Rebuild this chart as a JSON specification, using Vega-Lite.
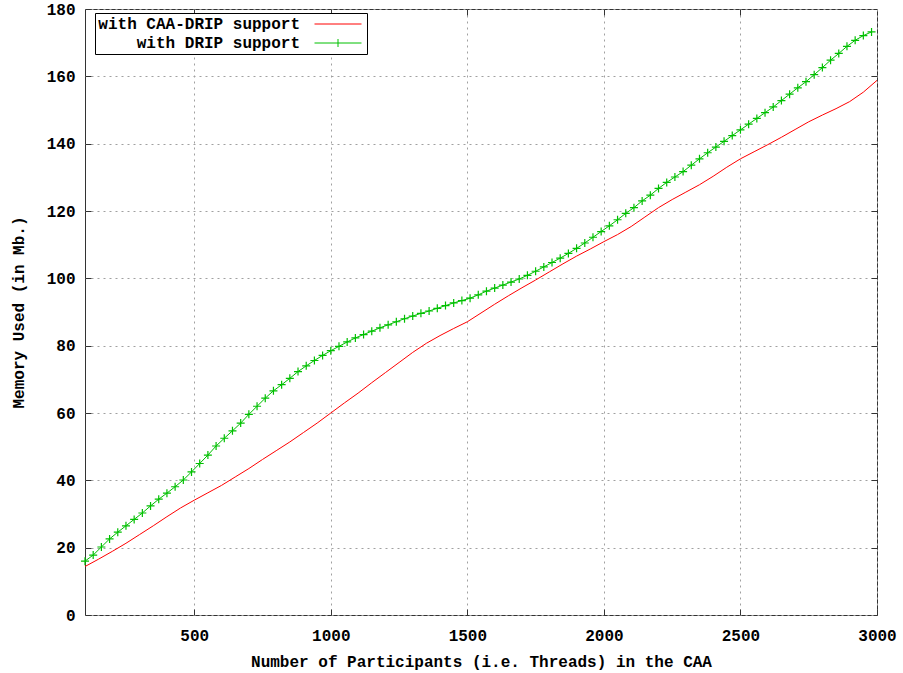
{
 "$schema": "https://vega.github.io/schema/vega-lite/v6.json",
 "width": 792,
 "height": 606,
 "autosize": {"type": "none"},
 "padding": {"left": 85, "top": 9, "right": 26, "bottom": 58},
 "background": "white",
 "config": {
  "font": "Liberation Mono",
  "view": {"stroke": "#333333", "strokeWidth": 1},
  "axis": {
   "labelFont": "Liberation Mono", "labelFontSize": 16, "labelFontWeight": "bold", "labelColor": "black",
   "titleFont": "Liberation Mono", "titleFontSize": 16, "titleFontWeight": "bold", "titleColor": "black",
   "domain": false, "tickColor": "#333333", "tickSize": -6, "tickWidth": 1,
   "gridColor": "#a0a0a0", "gridDash": [2, 4], "gridOpacity": 1, "gridWidth": 1
  }
 },
 "datasets": {
  "caa": [
   {"x":100,"y":14.4},{"x":150,"y":16.6},{"x":200,"y":18.9},{"x":250,"y":21.3},{"x":300,"y":23.9},
   {"x":350,"y":26.5},{"x":400,"y":29.2},{"x":450,"y":31.8},{"x":500,"y":34.1},{"x":550,"y":36.3},
   {"x":600,"y":38.5},{"x":650,"y":41.0},{"x":700,"y":43.5},{"x":750,"y":46.2},{"x":800,"y":48.8},
   {"x":850,"y":51.4},{"x":900,"y":54.2},{"x":950,"y":57.0},{"x":1000,"y":60.0},{"x":1050,"y":63.0},
   {"x":1100,"y":65.9},{"x":1150,"y":69.0},{"x":1200,"y":72.0},{"x":1250,"y":75.0},{"x":1300,"y":78.0},
   {"x":1350,"y":80.7},{"x":1400,"y":83.0},{"x":1450,"y":85.1},{"x":1500,"y":87.1},{"x":1550,"y":89.7},
   {"x":1600,"y":92.3},{"x":1650,"y":94.8},{"x":1700,"y":97.2},{"x":1750,"y":99.5},{"x":1800,"y":101.9},
   {"x":1850,"y":104.3},{"x":1900,"y":106.6},{"x":1950,"y":108.7},{"x":2000,"y":110.9},{"x":2050,"y":113.0},
   {"x":2100,"y":115.4},{"x":2150,"y":118.2},{"x":2200,"y":121.0},{"x":2250,"y":123.4},{"x":2300,"y":125.6},
   {"x":2350,"y":127.8},{"x":2400,"y":130.3},{"x":2450,"y":133.0},{"x":2500,"y":135.5},{"x":2550,"y":137.6},
   {"x":2600,"y":139.7},{"x":2650,"y":141.9},{"x":2700,"y":144.2},{"x":2750,"y":146.5},{"x":2800,"y":148.5},
   {"x":2850,"y":150.4},{"x":2900,"y":152.5},{"x":2950,"y":155.3},{"x":3000,"y":158.8}
  ],
  "drip": [
   {"x":100,"y":16.0},{"x":130,"y":17.8},{"x":160,"y":20.2},{"x":190,"y":22.6},{"x":220,"y":24.6},
   {"x":250,"y":26.5},{"x":280,"y":28.4},{"x":310,"y":30.3},{"x":340,"y":32.4},{"x":370,"y":34.4},
   {"x":400,"y":36.2},{"x":430,"y":38.1},{"x":460,"y":40.1},{"x":490,"y":42.5},{"x":520,"y":45.0},
   {"x":550,"y":47.5},{"x":580,"y":50.2},{"x":610,"y":52.5},{"x":640,"y":54.7},{"x":670,"y":57.0},
   {"x":700,"y":59.6},{"x":730,"y":62.0},{"x":760,"y":64.4},{"x":790,"y":66.6},{"x":820,"y":68.4},
   {"x":850,"y":70.3},{"x":880,"y":72.3},{"x":910,"y":74.0},{"x":940,"y":75.6},{"x":970,"y":77.1},
   {"x":1000,"y":78.5},{"x":1030,"y":79.8},{"x":1060,"y":81.1},{"x":1090,"y":82.3},{"x":1120,"y":83.3},
   {"x":1150,"y":84.3},{"x":1180,"y":85.3},{"x":1210,"y":86.2},{"x":1240,"y":87.1},{"x":1270,"y":88.0},
   {"x":1300,"y":88.8},{"x":1330,"y":89.6},{"x":1360,"y":90.3},{"x":1390,"y":91.1},{"x":1420,"y":91.9},
   {"x":1450,"y":92.7},{"x":1480,"y":93.4},{"x":1510,"y":94.1},{"x":1540,"y":95.1},{"x":1570,"y":96.2},
   {"x":1600,"y":97.1},{"x":1630,"y":98.0},{"x":1660,"y":98.9},{"x":1690,"y":99.8},{"x":1720,"y":100.9},
   {"x":1750,"y":102.1},{"x":1780,"y":103.4},{"x":1810,"y":104.7},{"x":1840,"y":106.0},{"x":1870,"y":107.4},
   {"x":1900,"y":108.9},{"x":1930,"y":110.5},{"x":1960,"y":112.2},{"x":1990,"y":113.9},{"x":2020,"y":115.6},
   {"x":2050,"y":117.4},{"x":2080,"y":119.3},{"x":2110,"y":121.0},{"x":2140,"y":123.0},{"x":2170,"y":124.7},
   {"x":2200,"y":126.7},{"x":2230,"y":128.5},{"x":2260,"y":130.1},{"x":2290,"y":131.7},{"x":2320,"y":133.6},
   {"x":2350,"y":135.5},{"x":2380,"y":137.3},{"x":2410,"y":139.0},{"x":2440,"y":140.7},{"x":2470,"y":142.4},
   {"x":2500,"y":144.1},{"x":2530,"y":145.8},{"x":2560,"y":147.5},{"x":2590,"y":149.2},{"x":2620,"y":150.9},
   {"x":2650,"y":152.8},{"x":2680,"y":154.7},{"x":2710,"y":156.6},{"x":2740,"y":158.4},{"x":2770,"y":160.5},
   {"x":2800,"y":162.6},{"x":2830,"y":164.8},{"x":2860,"y":166.8},{"x":2890,"y":168.9},{"x":2920,"y":170.7},
   {"x":2950,"y":172.1},{"x":2980,"y":173.2}
  ]
 },
 "resolve": {"axis": {"x": "independent", "y": "independent"}},
 "layer": [
  {
   "data": {"name": "caa"},
   "mark": {"type": "line", "strokeWidth": 1},
   "encoding": {
    "x": {
     "field": "x", "type": "quantitative",
     "scale": {"domain": [100, 3000], "nice": false, "zero": false},
     "axis": {
      "orient": "bottom",
      "values": [500, 1000, 1500, 2000, 2500, 3000],
      "format": "d", "labelFlush": false,
      "title": "Number of Participants (i.e. Threads) in the CAA",
      "labelPadding": 18, "titleY": 46, "titleBaseline": "middle"
     }
    },
    "y": {
     "field": "y", "type": "quantitative",
     "scale": {"domain": [0, 180], "nice": false},
     "axis": {
      "orient": "left",
      "values": [0, 20, 40, 60, 80, 100, 120, 140, 160, 180],
      "labelFlush": false,
      "title": "Memory Used  (in Mb.)",
      "labelPadding": 16, "titleX": -67, "titleBaseline": "middle"
     }
    },
    "color": {
     "datum": "with CAA-DRIP support",
     "type": "nominal",
     "scale": {"domain": ["with CAA-DRIP support", "with DRIP support"], "range": ["#ff0000", "#00c000"]},
     "legend": {
      "title": null,
      "orient": "none", "legendX": 10, "legendY": 4,
      "strokeColor": "black", "fillColor": "white", "padding": 3,
      "labelFont": "Liberation Mono", "labelFontSize": 16, "labelFontWeight": "bold", "labelColor": "black",
      "labelAlign": "right", "labelOffset": -46, "labelLimit": 400,
      "symbolOffset": 232, "symbolSize": 64, "symbolStrokeWidth": 1, "rowPadding": 3,
      "encode": {
       "symbols": {
        "update": {
         "shape": [
          {"test": "datum.value === 'with DRIP support'", "value": "M-5.875,0H5.875M0,-1V1"},
          {"value": "M-5.875,0H5.875"}
         ],
         "strokeWidth": {"value": 1},
         "fill": {"value": "transparent"}
        }
       }
      }
     }
    }
   }
  },
  {
   "data": {"name": "drip"},
   "mark": {"type": "line", "strokeWidth": 1},
   "encoding": {
    "x": {"field": "x", "type": "quantitative", "axis": null},
    "y": {"field": "y", "type": "quantitative", "axis": null},
    "color": {"datum": "with DRIP support", "type": "nominal"}
   }
  },
  {
   "data": {"name": "drip"},
   "mark": {"type": "point", "shape": "M-1,0H1M0,-1V1", "size": 64, "filled": false, "strokeWidth": 1.2, "color": "#00c000", "opacity": 1},
   "encoding": {
    "x": {"field": "x", "type": "quantitative",
     "axis": {"orient": "top", "values": [500, 1000, 1500, 2000, 2500], "labels": false, "grid": false, "title": null}},
    "y": {"field": "y", "type": "quantitative",
     "axis": {"orient": "right", "values": [20, 40, 60, 80, 100, 120, 140, 160], "labels": false, "grid": false, "title": null}}
   }
  }
 ]
}
